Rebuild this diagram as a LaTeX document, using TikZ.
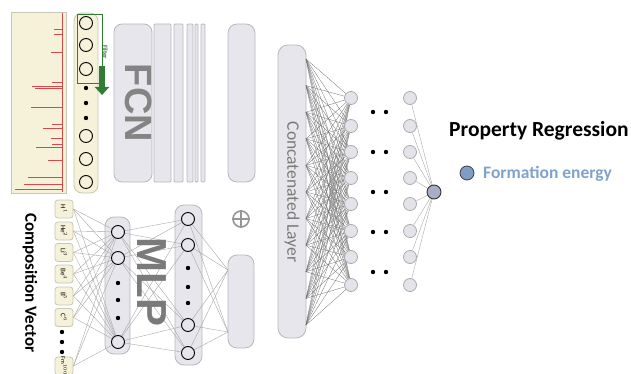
\documentclass[tikz,border=0pt]{standalone}
\usepackage{fontspec}
\setmainfont{Carlito}
\newfontfamily\headfont{Liberation Sans}
\usetikzlibrary{arrows.meta}
\pgfdeclarelayer{boxes}
\pgfdeclarelayer{wires}
\pgfsetlayers{boxes,wires,main}

\definecolor{boxfill}{HTML}{E6E6EC}
\definecolor{boxedge}{HTML}{B8B8BC}
\definecolor{cream}{HTML}{F6F2DA}
\definecolor{creamedge}{HTML}{C8C6B4}
\definecolor{specred}{HTML}{D8484A}
\definecolor{filtgreen}{HTML}{2E7D32}
\definecolor{wiregray}{HTML}{A8A8A8}
\definecolor{darkwire}{HTML}{707070}
\definecolor{labelgray}{HTML}{7A7A7A}
\definecolor{nodefill}{HTML}{E3E3EA}
\definecolor{nodeedge}{HTML}{ABABAF}
\definecolor{outfill}{HTML}{A8AEC9}
\definecolor{legendfill}{HTML}{7E9DC6}
\definecolor{legendtext}{HTML}{7FA2CB}

\begin{document}
\begin{tikzpicture}[x=1pt,y=-1pt,
  graybox/.style={draw=boxedge, fill=boxfill, line width=0.8pt, rounded corners=8pt,
    inner sep=0pt, rectangle},
  strip/.style={draw=boxedge, fill=boxfill, line width=0.8pt, rounded corners=1pt},
  creambox/.style={draw=creamedge, fill=cream, line width=0.8pt, inner sep=0pt, rectangle},
  elembox/.style={creambox, rounded corners=3pt, minimum width=18pt, minimum height=18pt},
  elemlabel/.style={rotate=-90, inner sep=0pt, font=\fontsize{7}{8}\selectfont},
  ring/.style={circle, draw=black, line width=0.9pt, minimum size=13pt, inner sep=0pt},
  filledring/.style={ring, fill=boxfill},
  hidden/.style={circle, draw=nodeedge, fill=nodefill, line width=0.8pt,
    minimum size=13pt, inner sep=0pt},
  dot/.style={circle, fill=black, minimum size=4.4pt, inner sep=0pt},
  wire/.style={draw=wiregray, line width=0.4pt},
  densewire/.style={draw=darkwire, line width=0.3pt},
  biglabel/.style={rotate=-90, text=labelgray, inner sep=0pt,
    font=\headfont\bfseries\fontsize{38}{40}\selectfont}]

\useasboundingbox (0,0) rectangle (631,374);

% ---------------- spectrum input ----------------
\begin{pgfonlayer}{boxes}
  \node[creambox, minimum width=55pt, minimum height=181pt] (spec) at (38.5,102.5) {};
  \node[creambox, rounded corners=8pt, minimum width=24pt, minimum height=180pt] (feat) at (86,103) {};
\end{pgfonlayer}
\draw[specred, line width=0.9pt] (62,13) -- (62,192);
\foreach \y/\x in {29/54, 34/54, 52/51, 82/52, 86/32, 88/35, 107/31, 124/52,
                   128/43, 138/51, 144/52, 147/36, 160/48, 177/28, 184/24, 189/15}
  \draw[specred, line width=0.9pt] (62,\y) -- (\x,\y);

% feature vector circles
\foreach \n/\y in {1/23, 2/45, 3/69, 4/136, 5/159, 6/182}
  \node[ring] (f\n) at (86,\y) {};
\foreach \y in {88, 103, 118}
  \node[dot] at (86,\y) {};

% sliding filter
\node[draw=filtgreen, line width=0.9pt, minimum width=25pt, minimum height=69pt,
      inner sep=0pt] (filt) at (89.5,48.5) {};
\node[rotate=-90, text=filtgreen, inner sep=0pt,
      font=\bfseries\fontsize{6.5}{7}\selectfont] (filtlabel) at (105.5,52) {Filter};
\coordinate (arrowtop) at (102,66);
\coordinate (arrowend) at (102,95);
\draw[filtgreen, line width=6pt, -{Triangle[width=14pt, length=8pt]}] (arrowtop) -- (arrowend);

% ---------------- FCN branch ----------------
\begin{pgfonlayer}{boxes}
  \foreach \a/\b in {154/171, 174/183, 187/193, 195/198, 201/205}
    \draw[strip] (\a,24) rectangle (\b,182);
  \node[graybox, minimum width=38pt, minimum height=158pt] (fcn) at (133,103) {};
  \node[graybox, rounded corners=9pt, minimum width=27pt, minimum height=158pt] (fcnout) at (241.5,103) {};
\end{pgfonlayer}
\node[biglabel, opacity=0.9] (fcnlabel) at (139,103) {FCN};

% concatenation symbol
\node[circle, draw=labelgray!80, line width=1.6pt, minimum size=16pt, inner sep=0pt] (plus) at (241,219) {};
\draw[labelgray!80, line width=1.6pt] (plus.north) -- (plus.south);
\draw[labelgray!80, line width=1.6pt] (plus.west) -- (plus.east);

% ---------------- composition vector / MLP branch ----------------
\node[rotate=-90, inner sep=0pt, font=\bfseries\fontsize{17}{18}\selectfont] (complabel) at (30,283) {Composition Vector};

\begin{pgfonlayer}{boxes}
  \node[elembox] (e1) at (64,209) {};
  \node[elembox] (e2) at (64,231) {};
  \node[elembox] (e3) at (64,252.5) {};
  \node[elembox] (e4) at (64,274) {};
  \node[elembox] (e5) at (64,296) {};
  \node[elembox] (e6) at (64,317.5) {};
  \node[elembox] (e7) at (64,366) {};
  \node[graybox, rounded corners=9pt, minimum width=25pt, minimum height=137pt] (m1box) at (117.5,285.5) {};
  \node[graybox, rounded corners=9pt, minimum width=27pt, minimum height=160pt] (m2box) at (188.5,285) {};
  \node[graybox, rounded corners=9pt, minimum width=26pt, minimum height=93pt] (mlpout) at (241,301.5) {};
\end{pgfonlayer}
\node[elemlabel] at (e1) {H$^{1}$};
\node[elemlabel] at (e2) {He$^{2}$};
\node[elemlabel] at (e3) {Li$^{3}$};
\node[elemlabel] at (e4) {Be$^{4}$};
\node[elemlabel] at (e5) {B$^{5}$};
\node[elemlabel] at (e6) {C$^{6}$};
\node[elemlabel, font=\fontsize{6}{7}\selectfont] at (e7) {Fm$^{100}$};
\foreach \y in {332, 342, 352}
  \node[dot] at (62,\y) {};

% MLP hidden layers
\node[filledring] (m1a) at (118,232) {};
\node[filledring] (m1b) at (118,258) {};
\node[filledring] (m1c) at (118,342) {};
\foreach \y in {283, 300, 318}
  \node[dot] at (118,\y) {};
\node[filledring] (m2a) at (188,219) {};
\node[filledring] (m2b) at (188,245) {};
\node[filledring] (m2c) at (188,325) {};
\node[filledring] (m2d) at (188,353) {};
\foreach \y in {268, 287, 303}
  \node[dot] at (188,\y) {};
\node[biglabel, font=\headfont\bfseries\fontsize{42}{44}\selectfont] (mlplabel) at (152,282) {MLP};

\coordinate (p1) at (228,270);
\coordinate (p2) at (228,332);

% ---------------- concatenated layer and regression head ----------------
\begin{pgfonlayer}{boxes}
  \node[graybox, rounded corners=10pt, minimum width=28pt, minimum height=293pt] (cat) at (292,191.5) {};
\end{pgfonlayer}
\node[rotate=-90, text=labelgray, inner sep=0pt, font=\fontsize{17.5}{18}\selectfont] (catlabel) at (292,192) {Concatenated Layer};

\foreach \i in {0,...,10}
  \coordinate (c\i) at (306,{59+26.6*\i});

\foreach \j/\y in {1/98, 2/126, 3/152, 4/178, 5/204, 6/231, 7/257, 8/285} {
  \node[hidden] (h\j) at (351,\y) {};
  \node[hidden] (g\j) at (410,\y) {};
}
\foreach \y in {112, 152, 192, 232, 272} {
  \node[dot] at (373,\y) {};
  \node[dot] at (386,\y) {};
}
\node[circle, draw=black!80, fill=outfill, line width=0.9pt, minimum size=14pt, inner sep=0pt] (out) at (434,192) {};

% ---------------- legend ----------------
\node[anchor=west, inner sep=0pt, font=\bfseries\fontsize{21.5}{24}\selectfont] (title) at (449,131) {Property Regression};
\node[circle, draw=black!75, fill=legendfill, line width=0.8pt, minimum size=14pt, inner sep=0pt] (legend) at (467,173) {};
\node[anchor=west, inner sep=0pt, text=legendtext, font=\bfseries\fontsize{17.5}{20}\selectfont] (legendlabel) at (483,174) {Formation energy};

% ---------------- connections ----------------
\begin{pgfonlayer}{wires}
  \foreach \e in {e1,e2,e3,e4,e5,e6,e7}
    \foreach \m in {m1a,m1b,m1c}
      \draw[wire] (\e.east) -- (\m);
  \foreach \a in {m1a,m1b,m1c}
    \foreach \b in {m2a,m2b,m2c,m2d}
      \draw[wire] (\a) -- (\b);
  \foreach \b in {m2a,m2b,m2c,m2d}
    \foreach \p in {p1,p2}
      \draw[wire] (\b) -- (\p);
  \foreach \i in {0,...,10}
    \foreach \j in {1,...,8}
      \draw[densewire] (c\i) -- (h\j);
  \foreach \j in {1,...,8}
    \draw[wire] (g\j) -- (out);
\end{pgfonlayer}

\end{tikzpicture}
\end{document}
